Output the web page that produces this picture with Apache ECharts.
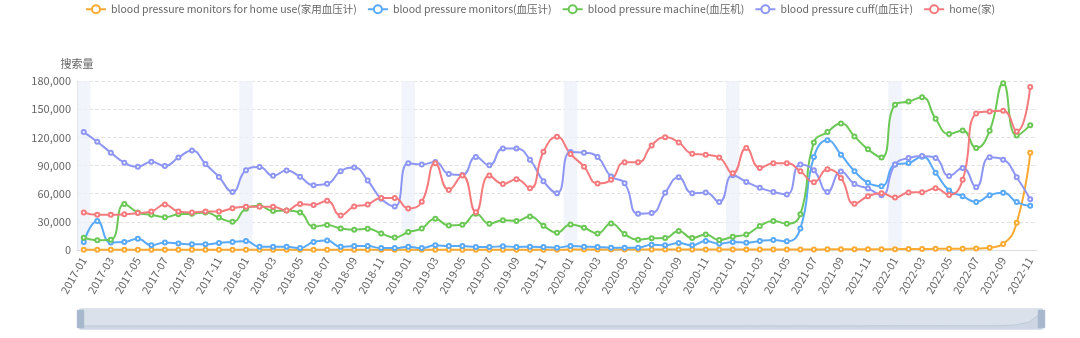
<!DOCTYPE html>
<html>
<head>
<meta charset="utf-8">
<script src="https://cdn.jsdelivr.net/npm/echarts@6/dist/echarts.min.js"></script>
<style>
html,body{margin:0;padding:0;background:#fff;}
#chart{width:1080px;height:338px;}
</style>
</head>
<body>
<div id="chart"></div>
<script>
const months = [];
for (let y = 2017; y <= 2022; y++) {
  for (let m = 1; m <= 12; m++) {
    if (y === 2022 && m > 11) break;
    months.push(y + '-' + (m < 10 ? '0' + m : '' + m));
  }
}

const seriesNames = [
  'blood pressure monitors for home use(家用血压计)',
  'blood pressure monitors(血压计)',
  'blood pressure machine(血压机)',
  'blood pressure cuff(血压计)',
  'home(家)'
];

const homeUse = [
  300, 300, 300, 300, 300, 300, 300, 300, 300, 300, 300, 300,
  300, 300, 300, 300, 300, 300, 300, 300, 300, 300, 300, 300,
  300, 300, 300, 300, 300, 300, 300, 300, 300, 300, 300, 300,
  400, 400, 400, 400, 400, 400, 400, 400, 400, 400, 400, 400,
  500, 500, 500, 500, 600, 600, 600, 700, 700, 700, 800, 800,
  900, 1000, 1100, 1200, 1300, 1400, 1600, 2500, 6500, 29000, 103500
];

const monitors = [
  8500, 31000, 8000, 8500, 12000, 5000, 8000, 7000, 6000, 6000, 7500, 8500,
  9500, 3500, 3500, 3500, 2000, 8500, 10000, 3500, 4200, 4200, 2000, 2000,
  3500, 2000, 5000, 4200, 4200, 3200, 3200, 4000, 3200, 3500, 3200, 2500,
  4200, 3500, 3200, 2500, 2500, 2500, 5700, 5000, 7400, 5000, 9600, 6700,
  8500, 7800, 9600, 10600, 9200, 23000, 99000, 117000, 101500, 84000, 71500, 68000,
  91000, 92700, 99400, 82400, 63300, 57300, 51000, 58400, 61000, 51000, 47000
];

const machine = [
  13000, 10500, 11000, 49000, 40000, 37500, 35000, 38000, 38500, 40000, 34500, 30000,
  44000, 47000, 41500, 42000, 40000, 25000, 26500, 23000, 21600, 22600, 17700, 13400,
  19100, 23000, 33300, 26200, 26900, 38600, 28000, 31800, 30800, 35700, 25800, 18400,
  27200, 23700, 17700, 28300, 17000, 11000, 12400, 12700, 20200, 12700, 16600, 10600,
  14200, 16600, 25500, 30800, 28000, 38000, 114600, 125600, 134800, 121000, 107200, 98400,
  154600, 158100, 162700, 139800, 123500, 127400, 108600, 127000, 177600, 122000, 133000
];

const cuff = [
  125600, 115300, 103700, 93000, 88800, 94000, 89500, 98400, 106000, 91600, 77800, 61900,
  85000, 88500, 79000, 84600, 78000, 69000, 70500, 84000, 88000, 74000, 54500, 46300,
  92300, 91000, 93800, 81000, 80000, 99000, 90200, 108000, 108000, 96200, 73200, 60500,
  104400, 103700, 99000, 78200, 71100, 38600, 39300, 60900, 77500, 60500, 61200, 51000,
  79600, 72500, 66200, 61900, 59100, 91000, 84900, 61900, 83500, 70400, 65500, 58400,
  91000, 98000, 100000, 98000, 78900, 87400, 66900, 98700, 96200, 77500, 54100
];

const home = [
  40000, 37500, 37500, 38000, 39300, 41000, 48500, 41000, 40000, 41000, 41000, 44500,
  46000, 46000, 46000, 42000, 49000, 48000, 52400, 36800, 46300, 48500, 55500, 55500,
  44200, 51300, 92300, 64000, 79300, 40300, 79300, 70400, 75400, 65800, 104700, 120600,
  102200, 88800, 70800, 74700, 93400, 93400, 111400, 120000, 114600, 102600, 101500, 98400,
  81700, 108600, 87400, 92300, 92300, 83900, 72200, 86000, 76800, 49200, 57300, 60500,
  55900, 61200, 61600, 65800, 58700, 74700, 145400, 147500, 148200, 126300, 173700
];

const yTicks = { min: 0, max: 180000, interval: 30000 };
const colors = ['#fcaa32', '#58a9f7', '#6bc855', '#8e96f3', '#f47a7e'];
const allData = [homeUse, monitors, machine, cuff, home];

const chart = echarts.init(document.getElementById('chart'));
const textColor = '#666';
const font = '"Noto Sans CJK SC", "Noto Sans", sans-serif';

chart.setOption({
  animation: false,
  color: colors,
  textStyle: { fontFamily: font },
  legend: {
    top: 0,
    left: 'center',
    padding: [4, 5, 5, 5],
    itemWidth: 20,
    itemHeight: 10,
    itemGap: 10,
    textStyle: { color: textColor, fontSize: 10.5, fontFamily: font },
    data: seriesNames
  },
  grid: { left: 77, right: 43, top: 81, bottom: 88 },
  xAxis: {
    type: 'category',
    boundaryGap: true,
    data: months,
    axisLine: { lineStyle: { color: '#ddd' } },
    axisTick: { lineStyle: { color: '#ddd' } },
    axisLabel: { rotate: 60, interval: 1, color: textColor, fontSize: 11, margin: 8 },
    splitArea: {
      show: true,
      interval: function (index) { return index % 12 === 0 || index % 12 === 1; },
      areaStyle: { color: ['rgba(236,240,248,0.75)', 'rgba(255,255,255,0)'] }
    }
  },
  yAxis: {
    type: 'value',
    name: '搜索量',
    nameGap: 12,
    nameTextStyle: { color: textColor, fontSize: 11 },
    min: yTicks.min,
    max: yTicks.max,
    interval: yTicks.interval,
    axisLine: { show: true, lineStyle: { color: '#e6e6e6' } },
    axisTick: { show: false },
    axisLabel: { color: textColor, fontSize: 11, margin: 6 },
    splitLine: { lineStyle: { type: 'dashed', color: '#e3e3e3' } }
  },
  dataZoom: [{
    type: 'slider',
    start: 0,
    end: 100,
    left: 77,
    right: 40,
    bottom: 8,
    height: 22,
    showDetail: false,
    brushSelect: false,
    moveHandleSize: 0,
    borderColor: '#dde3ec',
    backgroundColor: 'rgba(0,0,0,0)',
    fillerColor: 'rgba(167,183,204,0.42)',
    handleIcon: 'path://M0,0 H8 V22 H0 Z',
    handleSize: '80%',
    handleStyle: { color: '#a7b7cc', borderColor: '#a7b7cc' },
    dataBackground: {
      lineStyle: { color: '#c7d0dc', width: 0.8 },
      areaStyle: { color: '#c7d0dc', opacity: 0.4 }
    },
    selectedDataBackground: {
      lineStyle: { color: '#c7d0dc', width: 0.8 },
      areaStyle: { color: '#c7d0dc', opacity: 0.4 }
    }
  }],
  series: seriesNames.map(function (name, k) {
    return {
      name: name,
      type: 'line',
      smooth: true,
      symbol: 'emptyCircle',
      symbolSize: 4,
      showAllSymbol: true,
      lineStyle: { width: 2 },
      data: allData[k]
    };
  })
});
</script>
</body>
</html>
